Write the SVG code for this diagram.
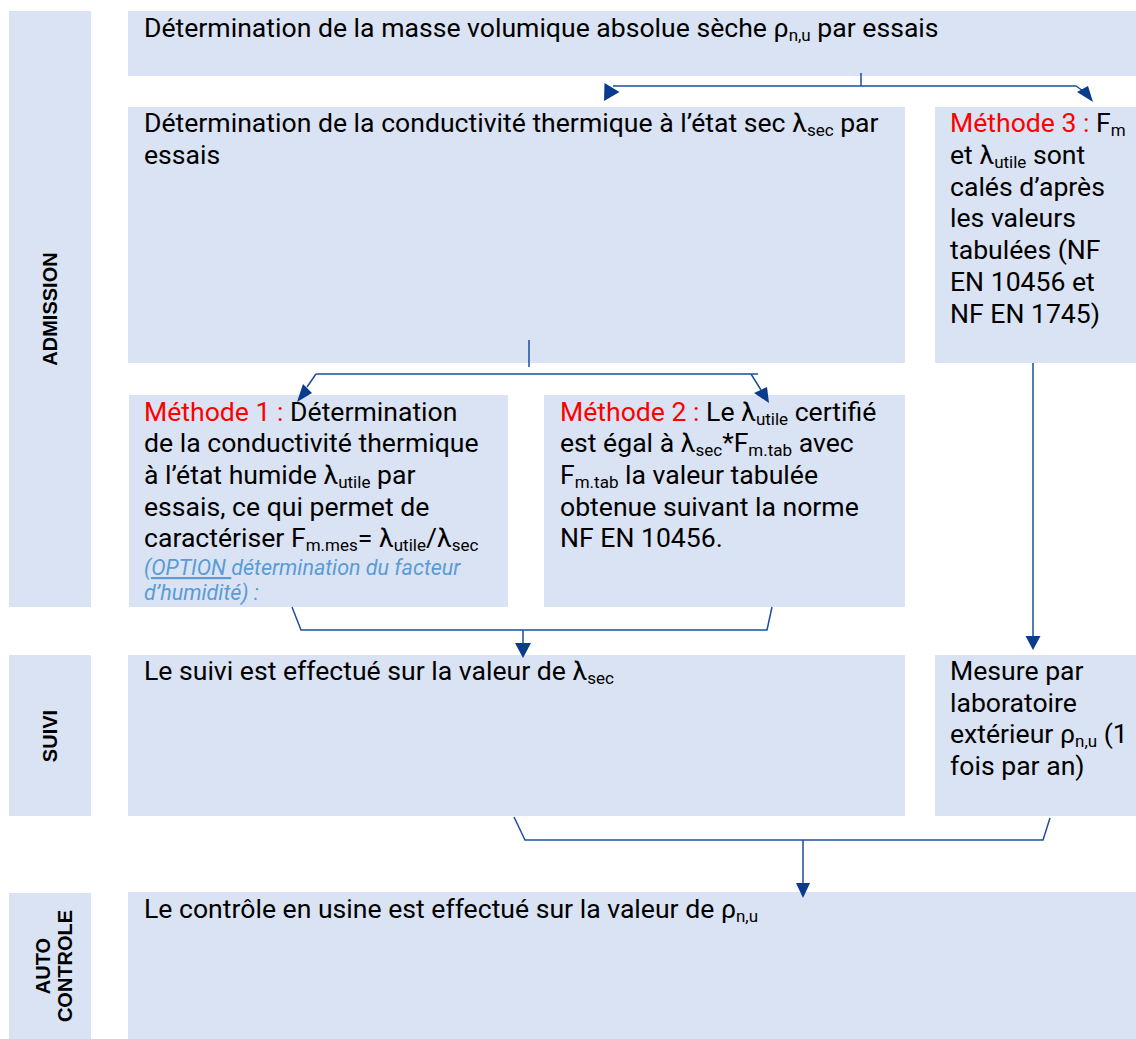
<svg xmlns="http://www.w3.org/2000/svg" width="1136" height="1039" viewBox="0 0 1136 1039">
<style>
.box{fill:#DAE3F3}
.t{font-family:Roboto,"Liberation Sans",sans-serif;font-size:26.6px;fill:#000}
.r{fill:#FF0000}
.s{font-size:17px}
.it{font-family:Roboto,"Liberation Sans",sans-serif;font-size:21.5px;font-style:italic;fill:#5B9BD5}
.lbl{font-family:"Liberation Sans",Arial,sans-serif;font-size:20px;font-weight:bold;fill:#000;text-anchor:middle}
.ln{fill:none;stroke:#1F4E9C;stroke-width:1.5}
.ah{fill:#0B3C8C}
</style>
<rect width="1136" height="1039" fill="#FFFFFF"/>
<g id="lane-admission"><rect class="box" x="9" y="11" width="82" height="596"/><text class="lbl" x="50" y="316" transform="rotate(-90 50 309)">ADMISSION</text></g>
<g id="lane-suivi"><rect class="box" x="9" y="655" width="82" height="161"/><text class="lbl" x="50" y="743" transform="rotate(-90 50 736)">SUIVI</text></g>
<g id="lane-auto"><rect class="box" x="9" y="893" width="82" height="146"/><text class="lbl" transform="rotate(-90 50 966)"><tspan x="50" y="966">AUTO</tspan><tspan x="50" y="988">CONTROLE</tspan></text></g>

<g id="n-masse"><rect class="box" x="128" y="11" width="1008" height="65"/>
<text class="t" x="144" y="37">Détermination de la masse volumique absolue sèche ρ<tspan class="s" dy="4">n,u</tspan><tspan dy="-4"> par essais</tspan></text></g>

<g id="n-sec"><rect class="box" x="128" y="107" width="777" height="256"/>
<text class="t" x="144" y="132">Détermination de la conductivité thermique à l’état sec λ<tspan class="s" dy="4">sec</tspan><tspan dy="-4"> par</tspan></text>
<text class="t" x="144" y="164">essais</text></g>

<g id="n-m3"><rect class="box" x="935" y="107" width="201" height="256"/>
<text class="t"><tspan x="950" y="132"><tspan class="r">Méthode 3 :</tspan> F<tspan class="s" dy="4">m</tspan></tspan>
<tspan x="950" y="164">et λ<tspan class="s" dy="4">utile</tspan><tspan dy="-4"> sont</tspan></tspan>
<tspan x="950" y="196">calés d’après</tspan>
<tspan x="950" y="227">les valeurs</tspan>
<tspan x="950" y="259">tabulées (NF</tspan>
<tspan x="950" y="291">EN 10456 et</tspan>
<tspan x="950" y="323">NF EN 1745)</tspan></text></g>

<g id="n-m1"><rect class="box" x="129" y="395" width="379" height="212"/>
<text class="t"><tspan x="144" y="421"><tspan class="r">Méthode 1 :</tspan> Détermination</tspan>
<tspan x="144" y="452">de la conductivité thermique</tspan>
<tspan x="144" y="484">à l’état humide λ<tspan class="s" dy="4">utile</tspan><tspan dy="-4"> par</tspan></tspan>
<tspan x="144" y="516">essais, ce qui permet de</tspan>
<tspan x="144" y="547">caractériser F<tspan class="s" dy="4">m.mes</tspan><tspan dy="-4">= λ</tspan><tspan class="s" dy="4">utile</tspan><tspan dy="-4">/λ</tspan><tspan class="s" dy="4">sec</tspan></tspan></text>
<text class="it"><tspan x="144" y="575"><tspan text-decoration="underline">(OPTION </tspan>détermination du facteur</tspan>
<tspan x="144" y="600">d’humidité) :</tspan></text></g>

<g id="n-m2"><rect class="box" x="544" y="395" width="361" height="212"/>
<text class="t"><tspan x="560" y="421"><tspan class="r">Méthode 2 :</tspan> Le λ<tspan class="s" dy="4">utile</tspan><tspan dy="-4"> certifié</tspan></tspan>
<tspan x="560" y="452">est égal à λ<tspan class="s" dy="4">sec</tspan><tspan dy="-4">*F</tspan><tspan class="s" dy="4">m.tab</tspan><tspan dy="-4"> avec</tspan></tspan>
<tspan x="560" y="484">F<tspan class="s" dy="4">m.tab</tspan><tspan dy="-4"> la valeur tabulée</tspan></tspan>
<tspan x="560" y="516">obtenue suivant la norme</tspan>
<tspan x="560" y="547">NF EN 10456.</tspan></text></g>

<g id="n-suivi"><rect class="box" x="128" y="655" width="777" height="161"/>
<text class="t" x="144" y="680">Le suivi est effectué sur la valeur de λ<tspan class="s" dy="4">sec</tspan></text></g>

<g id="n-mesure"><rect class="box" x="935" y="655" width="201" height="161"/>
<text class="t"><tspan x="950" y="680">Mesure par</tspan>
<tspan x="950" y="712">laboratoire</tspan>
<tspan x="950" y="743">extérieur ρ<tspan class="s" dy="4">n,u</tspan><tspan dy="-4"> (1</tspan></tspan>
<tspan x="950" y="775">fois par an)</tspan></text></g>

<g id="n-auto"><rect class="box" x="128" y="892" width="1008" height="147"/>
<text class="t" x="144" y="918">Le contrôle en usine est effectué sur la valeur de ρ<tspan class="s" dy="4">n,u</tspan></text></g>

<g id="connectors">
<path class="ln" d="M861 73 V86 M613 86 H1076 L1083 91"/>
<polygon class="ah" points="604.5,83 604,101 619.5,92"/>
<polygon class="ah" points="1088,86 1077,92 1093,102"/>
<path class="ln" d="M529 340 V367 M316 374 H758 M316 374 L307 387 M751 374 L761 390"/>
<polygon class="ah" points="303,384 312,393 297,402"/>
<polygon class="ah" points="754,393 767,387 769,403"/>
<path class="ln" d="M292 607 L301 630 H767 L772 607 M523 630 V645"/>
<polygon class="ah" points="515,643 531,643 523,658"/>
<path class="ln" d="M1033 363 V638"/>
<polygon class="ah" points="1025.5,636 1040.5,636 1033,650"/>
<path class="ln" d="M514 817 L525 840 H1043 L1050 818 M803 840 V885"/>
<polygon class="ah" points="796,883 810,883 803,898"/>
</g>
</svg>
